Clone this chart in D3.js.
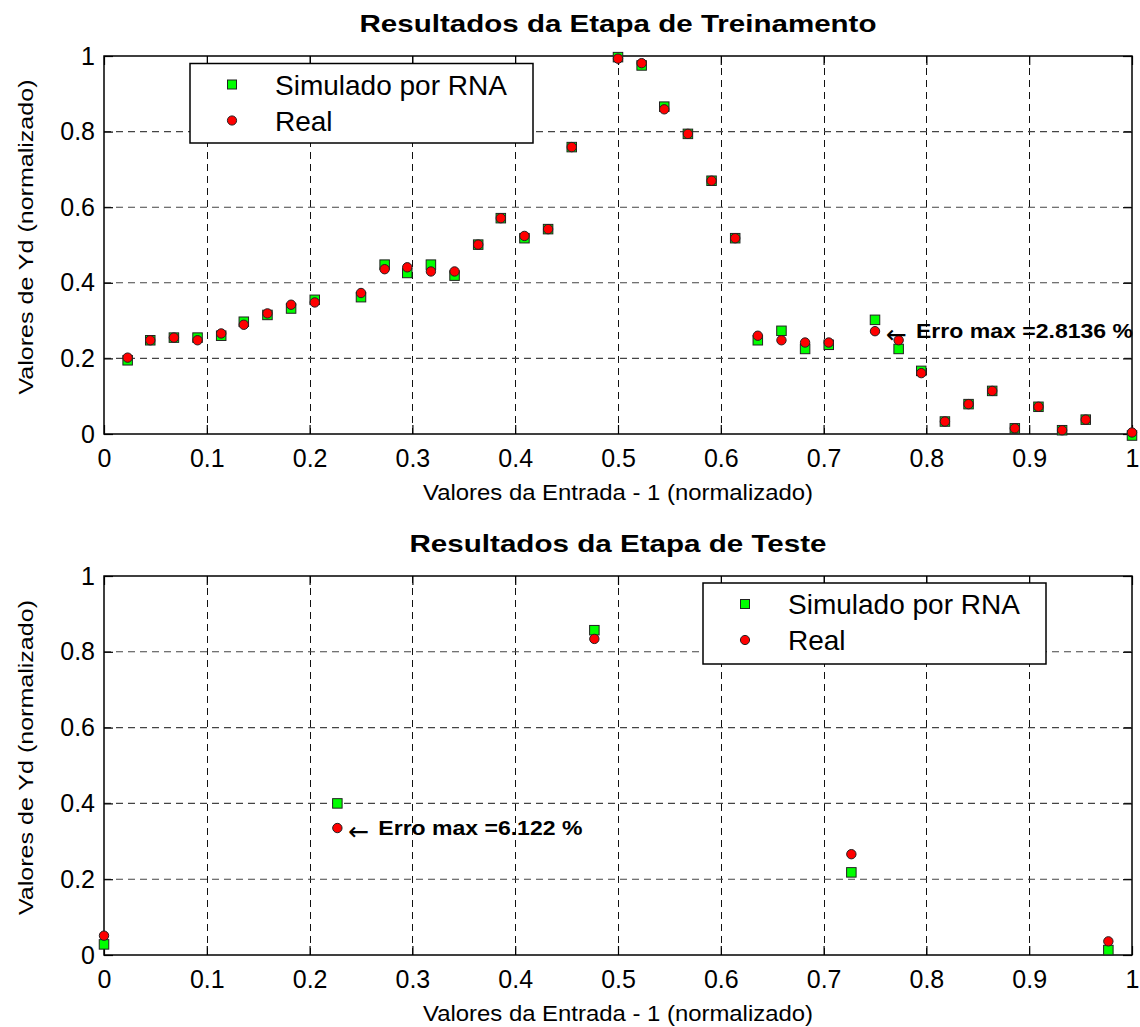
<!DOCTYPE html>
<html><head><meta charset="utf-8">
<script src="https://cdn.jsdelivr.net/npm/d3@7"></script>
<style>
body{margin:0;background:#fff}
svg{display:block}
text{fill:#000}
</style>
</head><body>
<svg id="c" width="1140" height="1027"></svg>
<script>
// ---- data ----
const trainX = [0.023,0.045,0.068,0.091,0.114,0.136,0.159,0.182,0.205,
  0.250,0.273,0.295,0.318,0.341,0.364,0.386,0.409,0.432,0.455,
  0.500,0.523,0.545,0.568,0.591,0.614,0.636,0.659,0.682,0.705,
  0.750,0.773,0.795,0.818,0.841,0.864,0.886,0.909,0.932,0.955,1.000];
const trainSim = [0.195,0.248,0.255,0.255,0.260,0.297,0.315,0.332,0.355,
  0.362,0.448,0.426,0.448,0.419,0.501,0.571,0.518,0.542,0.759,
  0.997,0.975,0.866,0.794,0.670,0.518,0.248,0.273,0.225,0.236,
  0.302,0.225,0.167,0.033,0.079,0.114,0.015,0.072,0.010,0.038,-0.004];
const trainReal = [0.202,0.248,0.255,0.248,0.266,0.289,0.319,0.342,0.348,
  0.373,0.436,0.441,0.430,0.430,0.501,0.571,0.524,0.542,0.759,
  0.993,0.981,0.859,0.794,0.670,0.518,0.260,0.248,0.242,0.242,
  0.272,0.248,0.161,0.033,0.079,0.114,0.015,0.072,0.010,0.038,0.004];
const testX = [0.000,0.227,0.477,0.727,0.977];
const testSim = [0.028,0.400,0.857,0.218,0.013];
const testReal = [0.051,0.335,0.834,0.266,0.036];

const xTicks = [0,0.1,0.2,0.3,0.4,0.5,0.6,0.7,0.8,0.9,1];
const xTickLabels = ["0","0.1","0.2","0.3","0.4","0.5","0.6","0.7","0.8","0.9","1"];
const yTicks = [0,0.2,0.4,0.6,0.8,1];
const yTickLabels = ["0","0.2","0.4","0.6","0.8","1"];
const legendLabels = ["Simulado por RNA","Real"];
const titles = ["Resultados da Etapa de Treinamento","Resultados da Etapa de Teste"];
const xLabel = "Valores da Entrada - 1 (normalizado)";
const yLabel = "Valores de Yd (normalizado)";
const noteX = [0.75, 0.227];
const noteY = [0.272, 0.335];
const noteText = ["Erro max =2.8136 %","Erro max =6.122 %"];

// ---- layout / style ----
const FONT = '"Liberation Sans", Arial, Helvetica, sans-serif';
const panels = [
  {top:56, bottom:434, legX:190, legY:63.5, legW:343, legH:79.5, titleLen:517, noteLen:217,
   xs:trainX, sim:trainSim, real:trainReal},
  {top:576, bottom:955, legX:703, legY:583, legW:343, legH:81, titleLen:417, noteLen:204,
   xs:testX, sim:testSim, real:testReal}
];
const LEFT = 104, RIGHT = 1132;
const GREEN = "#00ff00", RED = "#ff0000";

const svg = d3.select("#c");
svg.append("rect").attr("width",1140).attr("height",1027).attr("fill","#fff");

panels.forEach((p, pi) => {
  const x = d3.scaleLinear().domain([0,1]).range([LEFT,RIGHT]);
  const y = d3.scaleLinear().domain([0,1]).range([p.bottom,p.top]);
  const g = svg.append("g").style("font-family",FONT);

  // grid
  g.selectAll(".vg").data(xTicks.slice(1,-1)).join("line")
    .attr("x1",d=>Math.round(x(d))+0.5).attr("x2",d=>Math.round(x(d))+0.5)
    .attr("y1",p.top).attr("y2",p.bottom)
    .attr("stroke","#111").attr("stroke-width",1).attr("stroke-dasharray","7,5");
  g.selectAll(".hg").data(yTicks.slice(1,-1)).join("line")
    .attr("x1",LEFT).attr("x2",RIGHT)
    .attr("y1",d=>y(d)).attr("y2",d=>y(d))
    .attr("stroke","#444").attr("stroke-width",1.1).attr("stroke-dasharray","7,5");

  // axes with inward ticks
  const styleAxis = sel => {
    sel.select(".domain").remove();
    sel.selectAll("line").attr("stroke","#000").attr("stroke-width",1.2);
    sel.selectAll("text").attr("font-size",25).attr("fill","#000").style("font-family",FONT);
  };
  g.append("g").attr("transform",`translate(0,${p.bottom})`)
    .call(d3.axisBottom(x).tickValues(xTicks).tickFormat((d,i)=>xTickLabels[i])
      .tickSizeInner(-9).tickSizeOuter(0).tickPadding(15)).call(styleAxis);
  g.append("g").attr("transform",`translate(0,${p.top})`)
    .call(d3.axisTop(x).tickValues(xTicks).tickFormat(()=>"")
      .tickSizeInner(-9).tickSizeOuter(0)).call(styleAxis);
  g.append("g").attr("transform",`translate(${LEFT},0)`)
    .call(d3.axisLeft(y).tickValues(yTicks).tickFormat((d,i)=>yTickLabels[i])
      .tickSizeInner(-9).tickSizeOuter(0).tickPadding(9)).call(styleAxis);
  g.append("g").attr("transform",`translate(${RIGHT},0)`)
    .call(d3.axisRight(y).tickValues(yTicks).tickFormat(()=>"")
      .tickSizeInner(-9).tickSizeOuter(0)).call(styleAxis);

  // box
  g.append("rect").attr("x",LEFT).attr("y",p.top)
    .attr("width",RIGHT-LEFT).attr("height",p.bottom-p.top)
    .attr("fill","none").attr("stroke","#000").attr("stroke-width",1.5);

  // markers
  const sq = 9.5;
  g.selectAll(".sq").data(p.xs).join("rect")
    .attr("x",(d,i)=>x(d)-sq/2).attr("y",(d,i)=>y(p.sim[i])-sq/2)
    .attr("width",sq).attr("height",sq)
    .attr("fill",GREEN).attr("stroke","#222").attr("stroke-width",1);
  g.selectAll(".ci").data(p.xs).join("circle")
    .attr("cx",d=>x(d)).attr("cy",(d,i)=>y(p.real[i])).attr("r",4.7)
    .attr("fill",RED).attr("stroke","#222").attr("stroke-width",1);

  // legend
  const lg = g.append("g");
  lg.append("rect").attr("x",p.legX).attr("y",p.legY).attr("width",p.legW).attr("height",p.legH)
    .attr("fill","#fff").attr("stroke","#000").attr("stroke-width",1.5);
  const rowY = [p.legY+21, p.legY+57];
  const mx = p.legX+42;
  lg.append("rect").attr("x",mx-4.5).attr("y",rowY[0]-4.5).attr("width",9).attr("height",9)
    .attr("fill",GREEN).attr("stroke","#222").attr("stroke-width",1);
  lg.append("circle").attr("cx",mx).attr("cy",rowY[1]).attr("r",4.6)
    .attr("fill",RED).attr("stroke","#222").attr("stroke-width",1);
  legendLabels.forEach((t,i)=>{
    lg.append("text").attr("x",p.legX+85).attr("y",rowY[i]+10)
      .attr("font-size",28).text(t);
  });

  // title
  g.append("text").attr("x",(LEFT+RIGHT)/2).attr("y",p.top-24.3)
    .attr("text-anchor","middle").attr("font-size",24).attr("font-weight","bold")
    .attr("textLength",p.titleLen).attr("lengthAdjust","spacingAndGlyphs")
    .text(titles[pi]);

  // x label
  g.append("text").attr("x",(LEFT+RIGHT)/2).attr("y",p.bottom+66)
    .attr("text-anchor","middle").attr("font-size",22)
    .attr("textLength",390).attr("lengthAdjust","spacingAndGlyphs")
    .text(xLabel);

  // y label
  g.append("text")
    .attr("transform",`translate(33,${(p.top+p.bottom)/2-8}) rotate(-90)`)
    .attr("text-anchor","middle").attr("font-size",20)
    .attr("textLength",315).attr("lengthAdjust","spacingAndGlyphs")
    .text(yLabel);

  // annotation
  const ax = x(noteX[pi]), ay = y(noteY[pi]);
  g.append("text").attr("x",ax+11).attr("y",ay+12)
    .style("font-family","'DejaVu Sans'").attr("font-size",25).text("\u2190");
  g.append("text").attr("x",ax+41).attr("y",ay+7.3)
    .attr("font-size",21).attr("font-weight","bold")
    .attr("textLength",p.noteLen).attr("lengthAdjust","spacingAndGlyphs")
    .text(noteText[pi]);
});
</script>
</body></html>
